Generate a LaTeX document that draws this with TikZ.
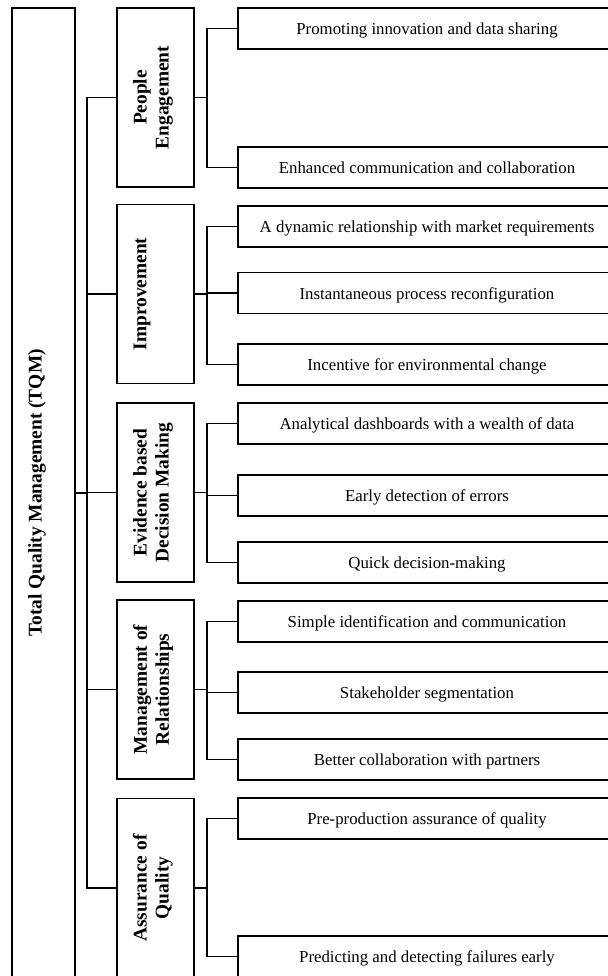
\documentclass[tikz,border=0pt]{standalone}
\usepackage{fontspec}
\setmainfont{Liberation Serif}
\tikzset{
    box/.style={draw, line width=0.9pt, inner sep=0pt},
    rootbox/.style={box, minimum width=31.5pt, minimum height=485pt},
    catbox/.style={box, minimum width=38.5pt, minimum height=89.5pt},
    leafbox/.style={box, minimum width=189pt, minimum height=20.5pt, text height=8pt, text depth=2pt, font=\fontsize{8.4}{10}\selectfont},
    cattext/.style={rotate=90, align=center, inner sep=0pt, font=\fontsize{9.7}{11}\selectfont\bfseries},
    connector/.style={line width=0.9pt}
}
\begin{document}
\begin{tikzpicture}[x=0.5pt, y=-0.5pt]
    \clip (0,0) rectangle (608,976);
    \node[rootbox] (tqm) at (43.5,493) {};
    \node[cattext] (tqm-l) at (37,493) {Total Quality Management (TQM)};
    \foreach \cat/\yc/\xl/\lbl in {
        people/97.5/153/People\\Engagement,
        improv/294/142/Improvement,
        evid/492.5/153/Evidence based\\Decision Making,
        relat/689.5/153/Management of\\Relationships,
        assur/888/153/Assurance of\\Quality
    } {
        \node[catbox] (\cat) at (155.5,\yc) {};
        \node[cattext] (\cat-l) at (\xl,\yc) {\lbl};
        \draw[connector] (\cat.west) -- ++(-29,0) |- (tqm.east);
    }
    \foreach \leaf/\cat/\yc/\lbl in {
        pe1/people/28.5/Promoting innovation and data sharing,
        pe2/people/167.5/Enhanced communication and collaboration,
        im1/improv/226.5/A dynamic relationship with market requirements,
        im2/improv/293/Instantaneous process reconfiguration,
        im3/improv/364.5/Incentive for environmental change,
        ev1/evid/423.5/Analytical dashboards with a wealth of data,
        ev2/evid/495.5/Early detection of errors,
        ev3/evid/562.5/Quick decision-making,
        re1/relat/621.5/Simple identification and communication,
        re2/relat/692.5/Stakeholder segmentation,
        re3/relat/759.5/Better collaboration with partners,
        as1/assur/818.5/Pre-production assurance of quality,
        as2/assur/956.5/Predicting and detecting failures early
    } {
        \node[leafbox] (\leaf) at (427,\yc) {\lbl};
        \draw[connector] (\leaf.west) -- ++(-30,0) |- (\cat.east);
    }
\end{tikzpicture}
\end{document}
